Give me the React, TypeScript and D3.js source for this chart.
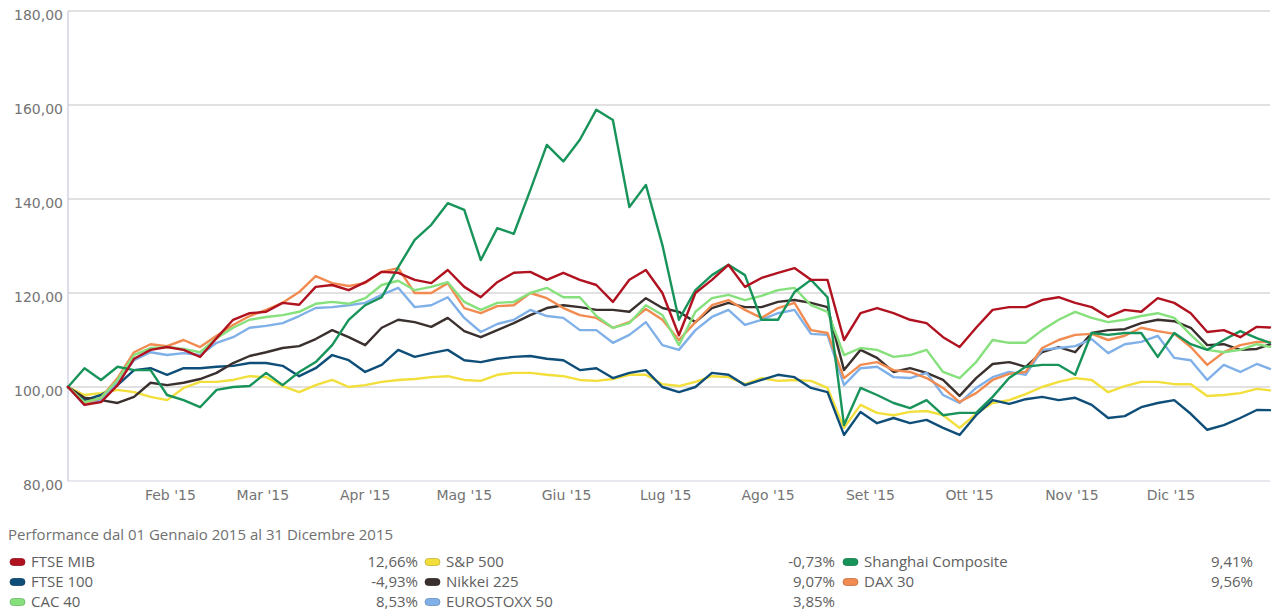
import React from 'react';
import * as d3 from 'd3';

// Day offsets from 1 Jan 2015 (sampling grid of the series)
const dayOffsets = [0, 5, 10, 15, 20, 25, 30, 35, 40, 45, 50, 55, 60, 65, 70, 75, 80, 85, 90, 95,
  100, 105, 110, 115, 120, 125, 130, 135, 140, 145, 150, 155, 160, 165, 170, 175, 180, 185, 190, 195,
  200, 205, 210, 215, 220, 225, 230, 235, 240, 245, 250, 255, 260, 265, 270, 275, 280, 285, 290, 295,
  300, 305, 310, 315, 320, 325, 330, 335, 340, 345, 350, 355, 360, 364];

const ftseMib = [100, 96.2, 96.8, 100.4, 106.0, 107.9, 108.5, 107.9, 106.4, 110.4, 114.3, 115.7, 116.0, 117.9, 117.5, 121.3, 121.7, 120.6, 122.3, 124.5, 124.3, 122.8, 122.1, 124.9, 121.3, 119.1, 122.3, 124.3, 124.5, 122.8, 124.3, 122.8, 121.7, 118.1, 122.8, 124.9, 120.0, 111.0, 120.0, 122.8, 126.0, 121.3, 123.2, 124.3, 125.3, 122.8, 122.8, 110.0, 115.7, 116.8, 115.7, 114.3, 113.6, 110.6, 108.5, 112.6, 116.4, 117.0, 117.0, 118.5, 119.1, 117.9, 117.0, 114.9, 116.4, 116.0, 118.9, 117.9, 115.7, 111.7, 112.1, 110.6, 112.8, 112.66];
const ftse100 = [100, 97.2, 98.3, 100.4, 103.6, 104.0, 102.6, 104.0, 104.0, 104.3, 104.5, 105.1, 105.1, 104.5, 102.3, 104.0, 106.8, 105.7, 103.2, 104.7, 107.9, 106.4, 107.2, 107.9, 105.7, 105.3, 106.0, 106.4, 106.6, 106.0, 105.7, 103.6, 104.0, 101.9, 103.0, 103.6, 100.0, 98.9, 100.0, 103.0, 102.6, 100.4, 101.5, 102.6, 102.1, 99.8, 98.9, 89.8, 94.7, 92.3, 93.4, 92.3, 93.0, 91.3, 89.8, 94.0, 97.2, 96.4, 97.4, 97.9, 97.2, 97.7, 96.2, 93.4, 93.8, 95.7, 96.6, 97.2, 94.3, 90.9, 91.9, 93.4, 95.1, 95.07];
const cac40 = [100, 96.8, 97.7, 101.5, 106.8, 108.3, 108.5, 108.1, 107.4, 110.4, 112.6, 114.3, 114.9, 115.3, 116.0, 117.7, 118.1, 117.7, 118.9, 121.7, 122.6, 120.6, 121.3, 122.3, 118.1, 116.4, 117.9, 118.1, 120.0, 121.1, 119.1, 119.1, 115.1, 112.6, 113.6, 117.4, 115.3, 108.9, 116.0, 118.9, 119.6, 118.5, 119.4, 120.6, 121.1, 117.4, 116.0, 106.8, 108.3, 107.9, 106.4, 106.8, 107.9, 103.2, 101.9, 105.3, 110.0, 109.4, 109.4, 112.1, 114.3, 116.0, 114.7, 113.8, 114.3, 115.1, 115.7, 114.7, 111.1, 107.9, 107.4, 107.9, 109.1, 108.53];
const sp500 = [100, 98.3, 98.7, 99.4, 98.9, 97.9, 97.2, 99.8, 101.1, 101.1, 101.5, 102.3, 102.1, 100.2, 98.9, 100.4, 101.5, 100.0, 100.4, 101.1, 101.5, 101.7, 102.1, 102.3, 101.5, 101.3, 102.6, 103.0, 103.0, 102.6, 102.3, 101.5, 101.3, 101.7, 102.6, 102.6, 100.6, 100.2, 101.1, 102.3, 102.1, 100.6, 101.9, 101.3, 101.5, 101.3, 99.8, 91.3, 96.2, 94.5, 94.0, 94.7, 94.9, 94.0, 91.3, 94.3, 96.6, 97.2, 98.5, 100.0, 101.1, 101.9, 101.5, 98.9, 100.2, 101.1, 101.1, 100.6, 100.6, 98.1, 98.3, 98.7, 99.6, 99.27];
const nikkei225 = [100, 97.7, 97.2, 96.6, 97.9, 100.9, 100.4, 100.9, 101.7, 103.0, 105.1, 106.6, 107.4, 108.3, 108.7, 110.2, 112.1, 110.6, 108.9, 112.6, 114.3, 113.8, 112.8, 114.7, 111.9, 110.6, 112.1, 113.6, 115.3, 116.8, 117.4, 117.0, 116.4, 116.4, 116.0, 118.9, 116.8, 116.0, 113.8, 116.8, 117.9, 117.0, 117.0, 118.1, 118.5, 117.9, 117.0, 103.6, 107.9, 106.2, 103.2, 104.0, 103.0, 101.5, 98.1, 101.9, 104.9, 105.3, 104.3, 107.4, 108.5, 107.4, 111.5, 112.1, 112.3, 113.6, 114.3, 114.0, 112.6, 108.9, 109.1, 107.9, 108.1, 109.07];
const euroStoxx50 = [100, 96.2, 97.2, 101.1, 105.7, 107.4, 106.8, 107.2, 106.8, 109.4, 110.6, 112.6, 113.0, 113.6, 115.1, 116.8, 117.0, 117.4, 117.9, 119.6, 121.1, 117.0, 117.4, 119.1, 114.7, 111.7, 113.4, 114.3, 116.4, 115.1, 114.7, 112.1, 112.1, 109.4, 111.1, 113.8, 108.9, 107.9, 112.1, 114.9, 116.4, 113.2, 114.3, 115.7, 116.4, 111.3, 111.1, 100.4, 104.0, 104.3, 102.1, 101.9, 103.0, 98.3, 96.6, 99.8, 102.1, 103.2, 102.6, 107.9, 108.3, 108.7, 110.2, 107.2, 109.1, 109.6, 110.9, 106.2, 105.7, 101.5, 104.7, 103.2, 104.9, 103.85];
const shanghai = [100, 104.0, 101.5, 104.3, 103.6, 103.6, 98.3, 97.2, 95.7, 99.4, 100.0, 100.2, 103.0, 100.4, 103.2, 105.3, 108.9, 114.3, 117.4, 119.1, 125.5, 131.3, 134.5, 139.1, 137.7, 127.0, 133.8, 132.6, 141.9, 151.5, 148.0, 152.6, 159.0, 156.8, 138.3, 143.0, 130.2, 114.3, 120.6, 123.8, 126.0, 123.8, 114.3, 114.3, 120.2, 122.8, 119.1, 91.9, 99.8, 98.3, 96.6, 95.5, 97.2, 94.0, 94.5, 94.5, 97.9, 101.9, 104.3, 104.7, 104.7, 102.6, 111.5, 111.1, 111.5, 111.5, 106.4, 111.5, 109.1, 107.9, 110.0, 111.9, 110.4, 109.41];
const dax30 = [100, 96.6, 97.7, 101.9, 107.4, 109.1, 108.7, 110.0, 108.5, 110.9, 113.2, 115.1, 116.4, 117.9, 120.2, 123.6, 122.1, 121.5, 122.1, 124.5, 125.3, 120.0, 120.0, 122.1, 116.8, 115.7, 117.2, 117.4, 120.0, 118.9, 116.8, 115.3, 114.7, 112.6, 113.8, 116.6, 114.3, 110.0, 113.8, 117.4, 118.5, 116.4, 114.7, 116.8, 117.9, 112.1, 111.5, 101.9, 104.7, 105.3, 103.6, 103.2, 101.9, 99.8, 96.8, 98.7, 101.5, 102.8, 103.2, 108.3, 110.0, 111.1, 111.3, 110.0, 110.9, 112.6, 111.9, 111.3, 108.5, 104.7, 107.4, 108.9, 109.6, 109.56];

const monthLabels = ["Feb '15", "Mar '15", "Apr '15", "Mag '15", "Giu '15", "Lug '15", "Ago '15", "Set '15", "Ott '15", "Nov '15", "Dic '15"];
const yTicks = [80, 100, 120, 140, 160, 180];

// legend (row-major order as in the reference)
const legendNames = ['FTSE MIB', 'S&P 500', 'Shanghai Composite', 'FTSE 100', 'Nikkei 225', 'DAX 30', 'CAC 40', 'EUROSTOXX 50'];
const legendPerf = ['12,66%', '-0,73%', '9,41%', '-4,93%', '9,07%', '9,56%', '8,53%', '3,85%'];

const seriesDefs = [
  { name: 'S&P 500', values: sp500, color: '#f2df3c' },
  { name: 'FTSE 100', values: ftse100, color: '#0e4e78' },
  { name: 'Nikkei 225', values: nikkei225, color: '#3a302d' },
  { name: 'EUROSTOXX 50', values: euroStoxx50, color: '#80b0e8' },
  { name: 'DAX 30', values: dax30, color: '#f28b50' },
  { name: 'CAC 40', values: cac40, color: '#86e07c' },
  { name: 'Shanghai Composite', values: shanghai, color: '#18945a' },
  { name: 'FTSE MIB', values: ftseMib, color: '#b01220' },
];

export default function App() {
  const W = 1285, H = 616;
  const left = 68, right = 1270, top = 11, bottom = 481;
  const x = d3.scaleTime().domain([new Date(2015, 0, 1), new Date(2015, 11, 31)]).range([left, right]);
  const y = d3.scaleLinear().domain([80, 180]).range([bottom, top]);
  const dates = dayOffsets.map((d) => new Date(2015, 0, 1 + d));
  const line = d3.line<number>()
    .x((_, i) => x(dates[i]))
    .y((v) => y(v));
  const months = d3.timeMonth.range(new Date(2015, 1, 1), new Date(2016, 0, 1));
  const fmt = (v: number) => v.toFixed(2).replace('.', ',');
  const colorOf = (n: string) => seriesDefs.find((s) => s.name === n)!.color;

  const colLeft = [10, 425, 843];
  const colValRight = [418, 835, 1253];
  const rowY = [562, 582, 602];

  return (
    <svg width={W} height={H} style={{ position: 'absolute', left: 0, top: 0, background: '#fff' }}>
      {yTicks.filter((t) => t > 80).map((t) => (
        <line key={t} x1={left} x2={right} y1={y(t)} y2={y(t)} stroke="#c4c4c4" strokeWidth={1.2} />
      ))}
      <line x1={left} x2={right} y1={bottom} y2={bottom} stroke="#cfd0dc" strokeWidth={1.2} />
      <line x1={left} x2={left} y1={top} y2={bottom} stroke="#c6c8dc" strokeWidth={1.2} />
      {yTicks.map((t) => (
        <text key={t} x={63} y={y(t) + 9} textAnchor="end" fontFamily="DejaVu Sans" fontSize={14} fill="#747474">{fmt(t)}</text>
      ))}
      {months.map((m, i) => (
        <text key={i} x={x(m)} y={500} textAnchor="middle" fontFamily="DejaVu Sans" fontSize={14} fill="#747474">{monthLabels[i]}</text>
      ))}
      <g fill="none" strokeWidth={2.4} strokeLinejoin="round" strokeLinecap="round">
        {seriesDefs.map((s) => (
          <path key={s.name} d={line(s.values) || ''} stroke={s.color} />
        ))}
      </g>
      <text x={8} y={540} fontFamily="Open Sans" fontSize={15} fill="#707070">Performance dal 01 Gennaio 2015 al 31 Dicembre 2015</text>
      {legendNames.map((n, i) => {
        const col = i % 3;
        const row = Math.floor(i / 3);
        const c = colorOf(n);
        return (
          <g key={n}>
            <rect x={colLeft[col]} y={rowY[row] - 3.5} width={15} height={7} rx={3.5} fill={c} stroke={d3.color(c)!.darker(0.6).toString()} strokeWidth={0.8} />
            <text x={colLeft[col] + 21} y={rowY[row] + 5} fontFamily="Open Sans" fontSize={15} fill="#606060">{n}</text>
            <text x={colValRight[col]} y={rowY[row] + 5} textAnchor="end" fontFamily="Open Sans" fontSize={15} fill="#606060">{legendPerf[i]}</text>
          </g>
        );
      })}
    </svg>
  );
}
